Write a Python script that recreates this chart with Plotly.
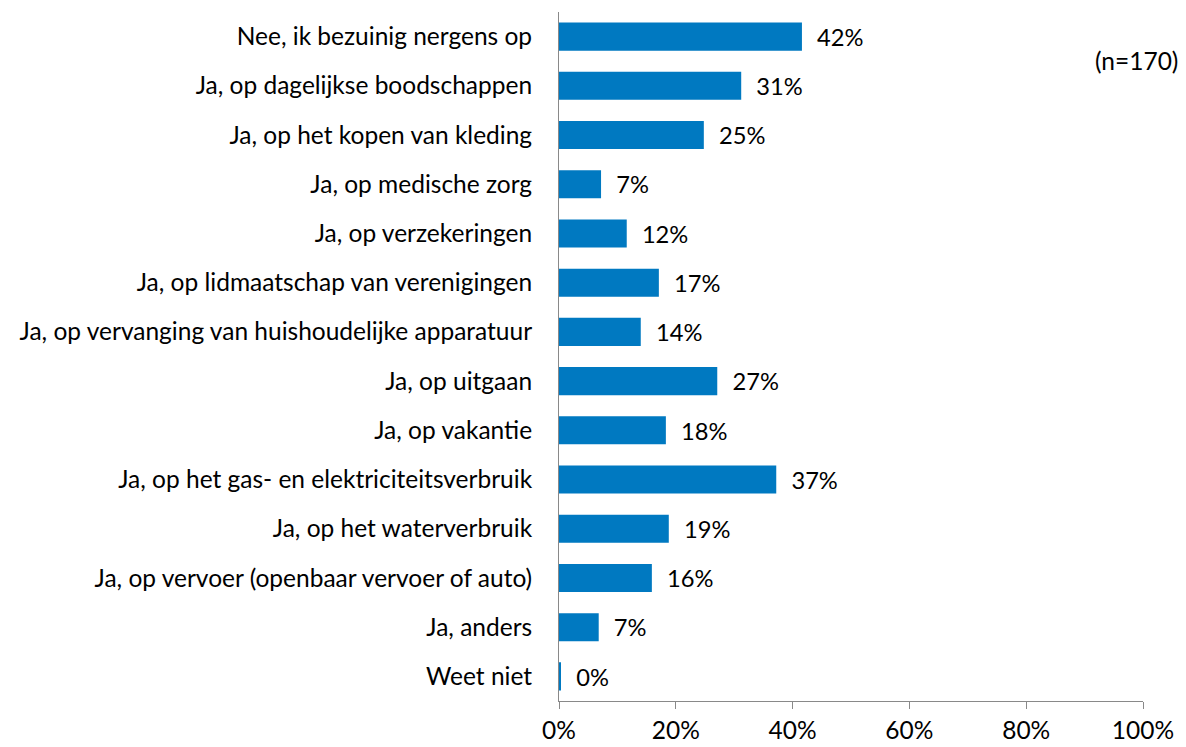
import plotly.graph_objects as go

categories = ['Nee, ik bezuinig nergens op', 'Ja, op dagelijkse boodschappen',
              'Ja, op het kopen van kleding', 'Ja, op medische zorg',
              'Ja, op verzekeringen', 'Ja, op lidmaatschap van verenigingen',
              'Ja, op vervanging van huishoudelijke apparatuur', 'Ja, op uitgaan',
              'Ja, op vakantie', 'Ja, op het gas- en elektriciteitsverbruik',
              'Ja, op het waterverbruik', 'Ja, op vervoer (openbaar vervoer of auto)',
              'Ja, anders', 'Weet niet']
values = [41.6, 31.2, 24.8, 7.2, 11.6, 17.1, 14.0, 27.1, 18.3, 37.2, 18.8, 15.9, 6.8, 0.3]
labels = ['42%', '31%', '25%', '7%', '12%', '17%', '14%', '27%', '18%', '37%', '19%', '16%', '7%', '0%']
xticks = [0, 20, 40, 60, 80, 100]

font = 'Lato, Calibri, sans-serif'
fs = 24.5

fig = go.Figure(go.Bar(
    x=values, y=categories, orientation='h',
    marker=dict(color='#0079C1', line=dict(width=0)),
    text=['  ' + l for l in labels], textposition='outside', cliponaxis=False,
    textfont=dict(family=font, size=fs, color='black'),
))

# page body has an 8px margin, so the figure is a bit smaller than the window
fig.update_layout(
    width=1178, height=739,
    margin=dict(l=551, r=43, t=4, b=46, autoexpand=False),
    plot_bgcolor='white', paper_bgcolor='white',
    bargap=0.43, showlegend=False,
    font=dict(family=font, size=fs, color='black'),
)
fig.update_xaxes(range=[0, 100], tickvals=xticks, ticktext=[f'{t}%' for t in xticks],
                 showgrid=False, zeroline=False, showline=True, linecolor='#898989',
                 ticks='outside', ticklen=7, tickcolor='#898989', tickwidth=1,
                 ticklabelstandoff=1, tickfont=dict(size=fs), automargin=False)
fig.update_yaxes(autorange='reversed', showgrid=False, showline=True, linecolor='#898989',
                 ticks='', ticklabelstandoff=21, tickfont=dict(size=fs), automargin=False)

fig.add_annotation(text='(n=170)', xref='paper', yref='paper', x=1.063, y=0.93,
                   xanchor='right', yanchor='middle', showarrow=False,
                   font=dict(family=font, size=fs, color='black'))

fig.write_html('out.html')
